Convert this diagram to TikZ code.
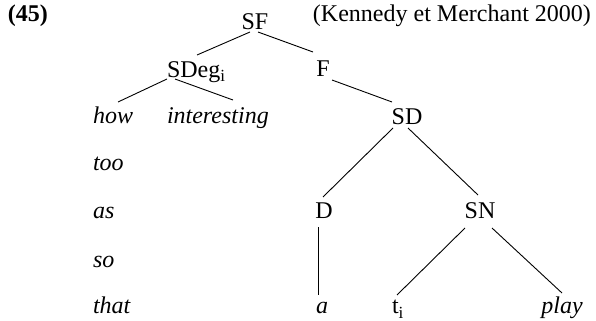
\documentclass[tikz,border=0pt]{standalone}
\usepackage{fontspec}
\setmainfont{Liberation Serif}
\usetikzlibrary{calc}
\newcommand{\lowsub}[1]{\raisebox{-0.45ex}{\fontsize{8.5}{9}\selectfont #1}}
\begin{document}
\begin{tikzpicture}[x=0.5pt,y=-0.5pt,
  lab/.style={inner sep=0pt,outer sep=0pt,font=\fontsize{12}{14}\selectfont},
  leaf/.style={lab,font=\fontsize{12}{14}\selectfont\itshape},
  edge/.style={line width=0.45pt}]
\useasboundingbox (0,0) rectangle (596,321);
% labels
\node[lab,anchor=base west,font=\fontsize{12}{14}\selectfont\bfseries] (num) at (8,22) {(45)};
\node[lab,anchor=base west] (ref) at (313,22) {(Kennedy et Merchant 2000)};
% tree nodes
\node[lab,anchor=base] (SF) at (255,30) {SF};
\node[lab,anchor=base west] (SDeg) at (167,77) {SDeg\lowsub{i}};
\node[lab,anchor=base] (F) at (323,76) {F};
\node[leaf,anchor=base west] (how) at (93,123) {how};
\node[leaf,anchor=base west] (int) at (167,123) {interesting};
\node[lab,anchor=base] (SD) at (407,125) {SD};
\node[leaf,anchor=base west] (too) at (93,170) {too};
\node[leaf,anchor=base west] (as) at (93,218) {as};
\node[leaf,anchor=base west] (so) at (93,267) {so};
\node[leaf,anchor=base west] (that) at (93,314) {that};
\node[lab,anchor=base] (D) at (324,218) {D};
\node[lab,anchor=base] (SN) at (480,218) {SN};
\node[leaf,anchor=base] (a) at (322,314) {a};
\node[lab,anchor=base west] (t) at (392,314) {t\lowsub{i}};
\node[leaf,anchor=base] (play) at (562,314) {play};
% edges
\draw[edge] ($(SF.base)+(-5,2)$) -- ($(SDeg.base west)+(30,-22)$);
\draw[edge] ($(SF.base)+(3,2)$) -- ($(F.base)+(-10,-24)$);
\draw[edge] ($(SDeg.base west)+(0,2)$) -- ($(how.base west)+(25,-21)$);
\draw[edge] ($(SDeg.base west)+(8,2)$) -- ($(int.base west)+(66,-23)$);
\draw[edge] ($(F.base)+(9,4)$) -- ($(SD.base)+(-15,-23)$);
\draw[edge] ($(SD.base)+(-14,3)$) -- ($(D.base)+(-1,-21)$);
\draw[edge] ($(SD.base)+(1,3)$) -- ($(SN.base)+(-2,-23)$);
\draw[edge] ($(D.base)+(-6,9)$) -- ($(a.base)+(-4,-19)$);
\draw[edge] ($(SN.base)+(-15,10)$) -- ($(t.base west)+(5,-19)$);
\draw[edge] ($(SN.base)+(12,10)$) -- ($(play.base)+(0,-21)$);
\end{tikzpicture}
\end{document}
